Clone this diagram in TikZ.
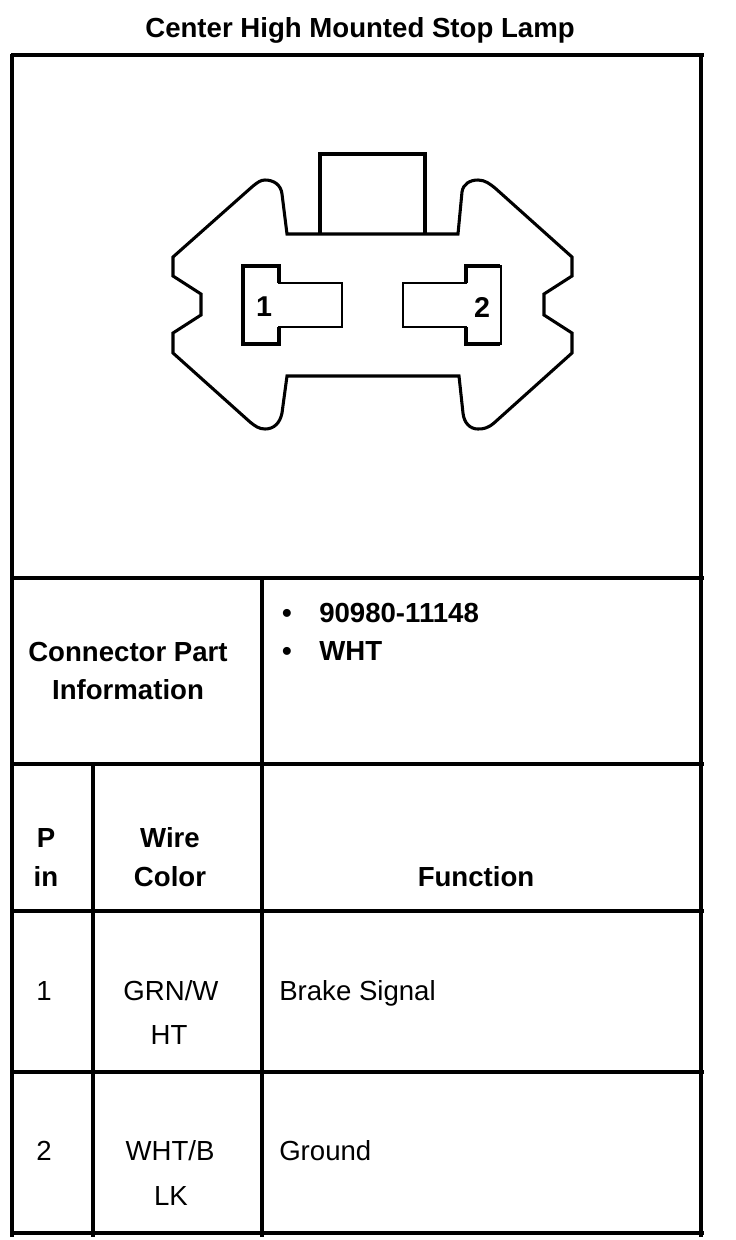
\documentclass[tikz,border=0pt]{standalone}
\usepackage{fontspec}
\setmainfont{Liberation Sans}
\newcommand{\fs}[1]{\fontsize{#1}{#1}\selectfont}
\tikzset{
  rule/.style={line width=2.6pt,line cap=butt},
  outline/.style={line width=2.3pt,line join=miter},
  pinbox/.style={line width=1.6pt,line join=miter},
  pinhead/.style={line width=2.7pt,line join=miter,line cap=square},
  tabbox/.style={line width=3.2pt,line join=miter},
  bold/.style={font=\fs{20.7}\bfseries,inner sep=0pt,anchor=base},
  boldl/.style={bold,anchor=base west},
  plain/.style={font=\fs{20.7},inner sep=0pt,anchor=base},
  plainl/.style={plain,anchor=base west},
  pindigit/.style={font=\fs{21.5}\bfseries,inner sep=0pt,anchor=base},
}
\begin{document}
\begin{tikzpicture}[x=0.75pt,y=-0.75pt]
\useasboundingbox (0,0) rectangle (736,1240);
\fill[white] (0,0) rectangle (736,1240);
% table rules
\foreach \y in {55,578,764,911,1072,1233} \draw[rule] (11,\y) -- (704,\y);
\draw[rule] (12,54) -- (12,1237);
\draw[rule] (701,54) -- (701,1237);
\draw[rule] (262,578) -- (262,1237);
\draw[rule] (93,764) -- (93,1237);
% connector outline
\draw[outline] (287,234) -- (458,234)
  -- (462,192) .. controls (463,184) and (470,180) .. (478,180)
  .. controls (485,180) and (490,184) .. (495,188)
  -- (572,257) -- (572,276) -- (544,294) -- (544,315) -- (572,333) -- (572,353)
  -- (494,423) .. controls (488,428) and (484,429) .. (478,429)
  .. controls (470,429) and (464,423) .. (463,413)
  -- (459,376) -- (287,376) -- (282,413)
  .. controls (280,423) and (274,429) .. (265,429)
  .. controls (259,429) and (255,426) .. (250,422)
  -- (173,353) -- (173,333) -- (201,315) -- (201,294) -- (173,276) -- (173,257)
  -- (253,186) .. controls (258,182) and (261,180) .. (265,180)
  .. controls (274,180) and (281,185) .. (282,194)
  -- cycle;
% lock tab
\draw[tabbox] (320,235) -- (320,154) -- (425,154) -- (425,235);
% pins
\draw[pinbox] (243,266) -- (279,266) -- (279,283) -- (342,283) -- (342,327) -- (279,327) -- (279,344) -- (243,344) -- cycle;
\draw[pinhead] (279,283) -- (279,266) -- (243,266) -- (243,344) -- (279,344) -- (279,327);
\draw[pinbox] (403,283) -- (466,283) -- (466,266) -- (501,266) -- (501,344) -- (466,344) -- (466,327) -- (403,327) -- cycle;
\draw[pinhead] (466,283) -- (466,266) -- (500,266);
\draw[pinhead] (466,327) -- (466,344) -- (500,344);
\node[pindigit] (pinA) at (264,316) {1};
\node[pindigit] (pinB) at (482,317) {2};
% texts
\node[bold] (title) at (360,37) {Center High Mounted Stop Lamp};
\node[bold] (cp) at (128,661) {Connector Part};
\node[bold] (info) at (128,699) {Information};
\node[bold] (bulA) at (287,622) {•};
\node[bold] (bulB) at (287,660) {•};
\node[boldl] (part) at (319,622) {90980-11148};
\node[boldl] (col) at (319,660) {WHT};
\node[bold] (pa) at (46,847) {P};
\node[bold] (pb) at (46,886) {in};
\node[bold] (wa) at (170,847) {Wire};
\node[bold] (wb) at (170,886) {Color};
\node[bold] (fn) at (476,886) {Function};
\node[plain] (ra) at (44,1000) {1};
\node[plain] (rb) at (171,1000) {GRN/W};
\node[plain] (rc) at (169,1044) {HT};
\node[plainl] (rd) at (279,1000) {Brake Signal};
\node[plain] (sa) at (44,1160) {2};
\node[plain] (sb) at (170,1160) {WHT/B};
\node[plain] (sc) at (171,1205) {LK};
\node[plainl] (sd) at (279,1160) {Ground};
\end{tikzpicture}
\end{document}
